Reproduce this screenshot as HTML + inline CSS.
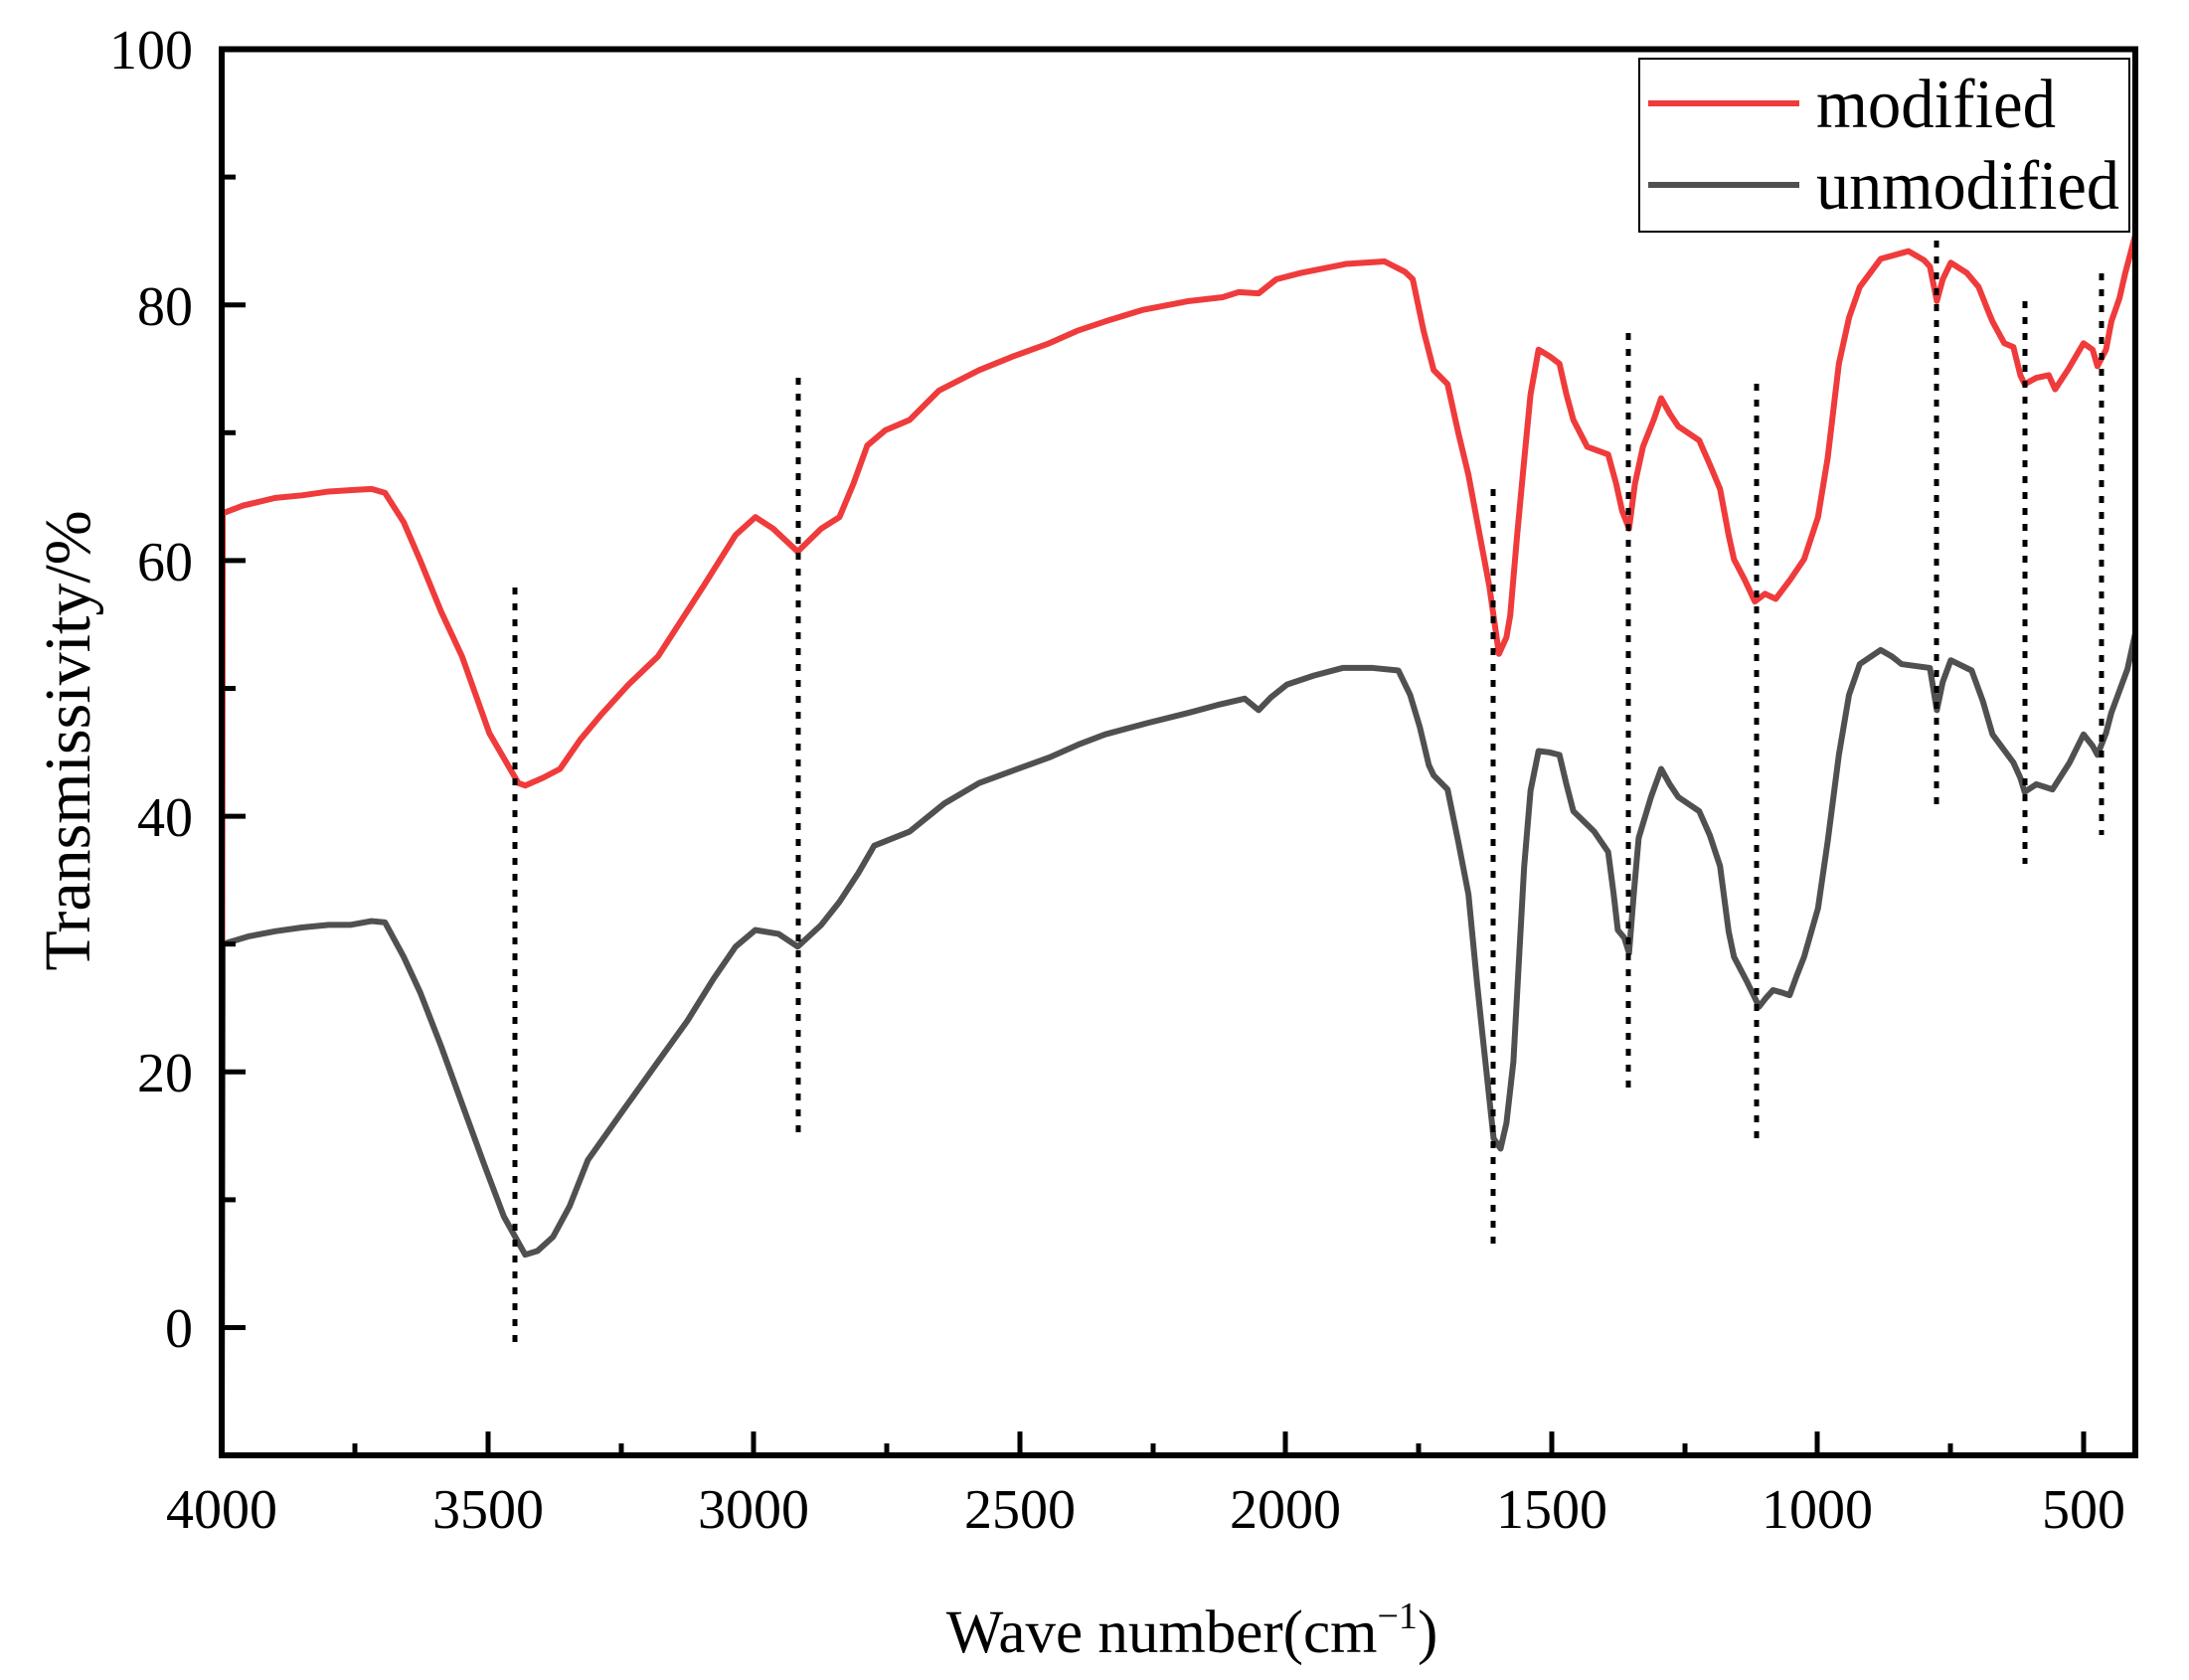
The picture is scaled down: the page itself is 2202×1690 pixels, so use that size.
<!DOCTYPE html>
<html><head><meta charset="utf-8"><style>html,body{margin:0;padding:0;background:#fff}svg{display:block}</style></head>
<body>
<svg width="2202" height="1690" viewBox="0 0 2202 1690" xmlns="http://www.w3.org/2000/svg" font-family="Liberation Serif, serif">
<defs><clipPath id="c"><rect x="223" y="49.5" width="1925" height="1414.5"/></clipPath></defs>
<rect width="2202" height="1690" fill="#fff"/>
<g clip-path="url(#c)">
<g transform="translate(223,1335.5) scale(-0.5385,-12.86) translate(-4000,0)" fill="none" stroke-linejoin="round" stroke-linecap="round">
<path vector-effect="non-scaling-stroke" stroke="#ef3b3b" stroke-width="6" d="M4000,0 L3998,63.7 L3960,64.3 L3900,64.9 L3850,65.1 L3800,65.4 L3760,65.5 L3720,65.6 L3695,65.3 L3660,63 L3629,60 L3590,56 L3551,52.5 L3500,46.5 L3446,42.6 L3433,42.4 L3400,43 L3368,43.7 L3330,46 L3290,48 L3240,50.3 L3185,52.5 L3100,58 L3040,62 L3003,63.4 L2970,62.5 L2924,60.7 L2880,62.5 L2846,63.4 L2820,66 L2794,69 L2760,70.2 L2715,71 L2660,73.3 L2585,74.9 L2520,76 L2454,77 L2400,78 L2350,78.7 L2280,79.6 L2193,80.3 L2130,80.6 L2100,81 L2063,80.9 L2030,82 L1984,82.5 L1900,83.2 L1828,83.4 L1790,82.6 L1775,82 L1755,78 L1736,74.9 L1710,73.8 L1690,70 L1671,66.7 L1650,62 L1632,58 L1614,52.7 L1600,54 L1593,55.7 L1580,62 L1567,67.8 L1555,73 L1540,76.5 L1520,76 L1501,75.4 L1488,73 L1475,71 L1449,68.9 L1410,68.3 L1395,66 L1384,63.9 L1371,62.5 L1360,66 L1345,68.9 L1325,71 L1311,72.7 L1295,71.5 L1279,70.5 L1240,69.4 L1220,67.5 L1201,65.6 L1185,62 L1175,60.1 L1155,58.5 L1136,56.8 L1117,57.4 L1097,57 L1070,58.5 L1044,60.1 L1018,63.4 L1000,68 L979,75.4 L960,79 L940,81.4 L901,83.6 L849,84.2 L820,83.5 L809,83 L796,80.3 L785,82 L770,83.3 L740,82.5 L718,81.4 L700,79.5 L692,78.7 L670,77 L653,76.7 L640,74.5 L632,73.8 L610,74.3 L587,74.5 L575,73.4 L550,75 L522,77 L505,76.5 L496,75.2 L480,76.5 L470,78.7 L455,80.5 L444,82.5 L425,85.5 L400,87"/>
<path vector-effect="non-scaling-stroke" stroke="#505050" stroke-width="6" d="M4000,-10 L3998,30 L3950,30.6 L3900,31 L3850,31.3 L3800,31.5 L3760,31.5 L3720,31.8 L3695,31.7 L3660,29 L3629,26.2 L3590,22 L3551,17.5 L3510,12.8 L3473,8.7 L3433,5.7 L3410,6 L3381,7.1 L3350,9.5 L3316,13.1 L3250,17 L3185,20.8 L3130,24 L3081,27.3 L3040,29.8 L3003,31.1 L2960,30.8 L2924,29.8 L2880,31.5 L2846,33.3 L2810,35.6 L2781,37.7 L2715,38.8 L2650,41 L2585,42.6 L2520,43.6 L2454,44.6 L2400,45.6 L2350,46.4 L2270,47.3 L2193,48.1 L2140,48.7 L2089,49.2 L2063,48.3 L2040,49.3 L2010,50.3 L1960,51 L1906,51.6 L1850,51.6 L1802,51.4 L1780,49.5 L1762,47 L1745,44 L1736,43.2 L1710,42.1 L1690,38 L1671,33.9 L1655,27 L1645,23 L1624,14.8 L1611,14 L1600,16 L1587,20.8 L1575,30 L1567,36 L1555,42 L1540,45.1 L1520,45 L1501,44.8 L1488,42.5 L1475,40.4 L1436,38.8 L1410,37.2 L1400,34 L1392,31.1 L1380,30.5 L1371,29.3 L1362,34 L1353,38.3 L1330,41.5 L1311,43.7 L1295,42.5 L1279,41.5 L1240,40.4 L1220,38.5 L1201,36.1 L1185,31 L1175,29 L1150,27 L1128,25.1 L1115,25.8 L1102,26.4 L1085,26.2 L1071,26 L1058,27.5 L1044,29 L1018,32.8 L1000,38 L979,44.8 L960,49.5 L940,51.9 L901,53 L880,52.5 L862,51.9 L809,51.6 L796,48.3 L785,50.5 L770,52.2 L731,51.4 L710,49 L692,46.4 L653,44.2 L640,43 L632,41.9 L610,42.5 L580,42.1 L548,44.2 L522,46.4 L505,45.5 L496,44.8 L480,46.5 L470,48.1 L440,51.5 L418,55.7 L400,57"/>
</g>
</g>
<g stroke="#000" stroke-width="5" stroke-dasharray="7 9">
<line x1="518" y1="591" x2="518" y2="1356"/>
<line x1="803" y1="380" x2="803" y2="1145"/>
<line x1="1502" y1="492" x2="1502" y2="1251"/>
<line x1="1638" y1="335" x2="1638" y2="1096"/>
<line x1="1767" y1="386" x2="1767" y2="1150"/>
<line x1="1948" y1="242" x2="1948" y2="812"/>
<line x1="2037" y1="303" x2="2037" y2="869"/>
<line x1="2114" y1="275" x2="2114" y2="840"/>
</g>
<rect x="223" y="49.5" width="1925" height="1414.5" fill="none" stroke="#000" stroke-width="6"/>
<g stroke="#000" stroke-width="5">
<line x1="223" y1="1335.5" x2="247" y2="1335.5"/><line x1="223" y1="1078.3" x2="247" y2="1078.3"/><line x1="223" y1="821.1" x2="247" y2="821.1"/><line x1="223" y1="563.9" x2="247" y2="563.9"/><line x1="223" y1="306.7" x2="247" y2="306.7"/>
<line x1="223" y1="1206.9" x2="237" y2="1206.9"/><line x1="223" y1="949.7" x2="237" y2="949.7"/><line x1="223" y1="692.5" x2="237" y2="692.5"/><line x1="223" y1="435.3" x2="237" y2="435.3"/><line x1="223" y1="178.1" x2="237" y2="178.1"/>
<line x1="491" y1="1464" x2="491" y2="1440"/><line x1="758" y1="1464" x2="758" y2="1440"/><line x1="1026" y1="1464" x2="1026" y2="1440"/><line x1="1293" y1="1464" x2="1293" y2="1440"/><line x1="1561" y1="1464" x2="1561" y2="1440"/><line x1="1828" y1="1464" x2="1828" y2="1440"/><line x1="2096" y1="1464" x2="2096" y2="1440"/>
<line x1="357" y1="1464" x2="357" y2="1452"/><line x1="625" y1="1464" x2="625" y2="1452"/><line x1="892" y1="1464" x2="892" y2="1452"/><line x1="1160" y1="1464" x2="1160" y2="1452"/><line x1="1427" y1="1464" x2="1427" y2="1452"/><line x1="1695" y1="1464" x2="1695" y2="1452"/><line x1="1962" y1="1464" x2="1962" y2="1452"/>
</g>
<g font-size="56" text-anchor="end" fill="#000">
<text x="194" y="1355">0</text><text x="194" y="1098">20</text><text x="194" y="841">40</text><text x="194" y="584">60</text><text x="194" y="327">80</text><text x="194" y="69">100</text>
</g>
<g font-size="56" text-anchor="middle" fill="#000">
<text x="223" y="1537">4000</text><text x="491" y="1537">3500</text><text x="758" y="1537">3000</text><text x="1026" y="1537">2500</text><text x="1293" y="1537">2000</text><text x="1561" y="1537">1500</text><text x="1828" y="1537">1000</text><text x="2096" y="1537">500</text>
</g>
<text x="1199" y="1662" font-size="61" text-anchor="middle">Wave number(cm<tspan dy="-24" font-size="38">−1</tspan><tspan dy="24">)</tspan></text>
<text transform="translate(90,745) rotate(-90)" font-size="66" text-anchor="middle">Transmissivity/%</text>
<rect x="1649" y="59" width="493" height="174" fill="#fff" stroke="#000" stroke-width="2"/>
<line x1="1658" y1="104" x2="1810" y2="104" stroke="#ef3b3b" stroke-width="6"/>
<line x1="1658" y1="186" x2="1810" y2="186" stroke="#505050" stroke-width="6"/>
<text x="1827" y="128" font-size="70" textLength="241" lengthAdjust="spacingAndGlyphs">modified</text>
<text x="1827" y="210" font-size="70" textLength="305" lengthAdjust="spacingAndGlyphs">unmodified</text>
</svg>
</body></html>
